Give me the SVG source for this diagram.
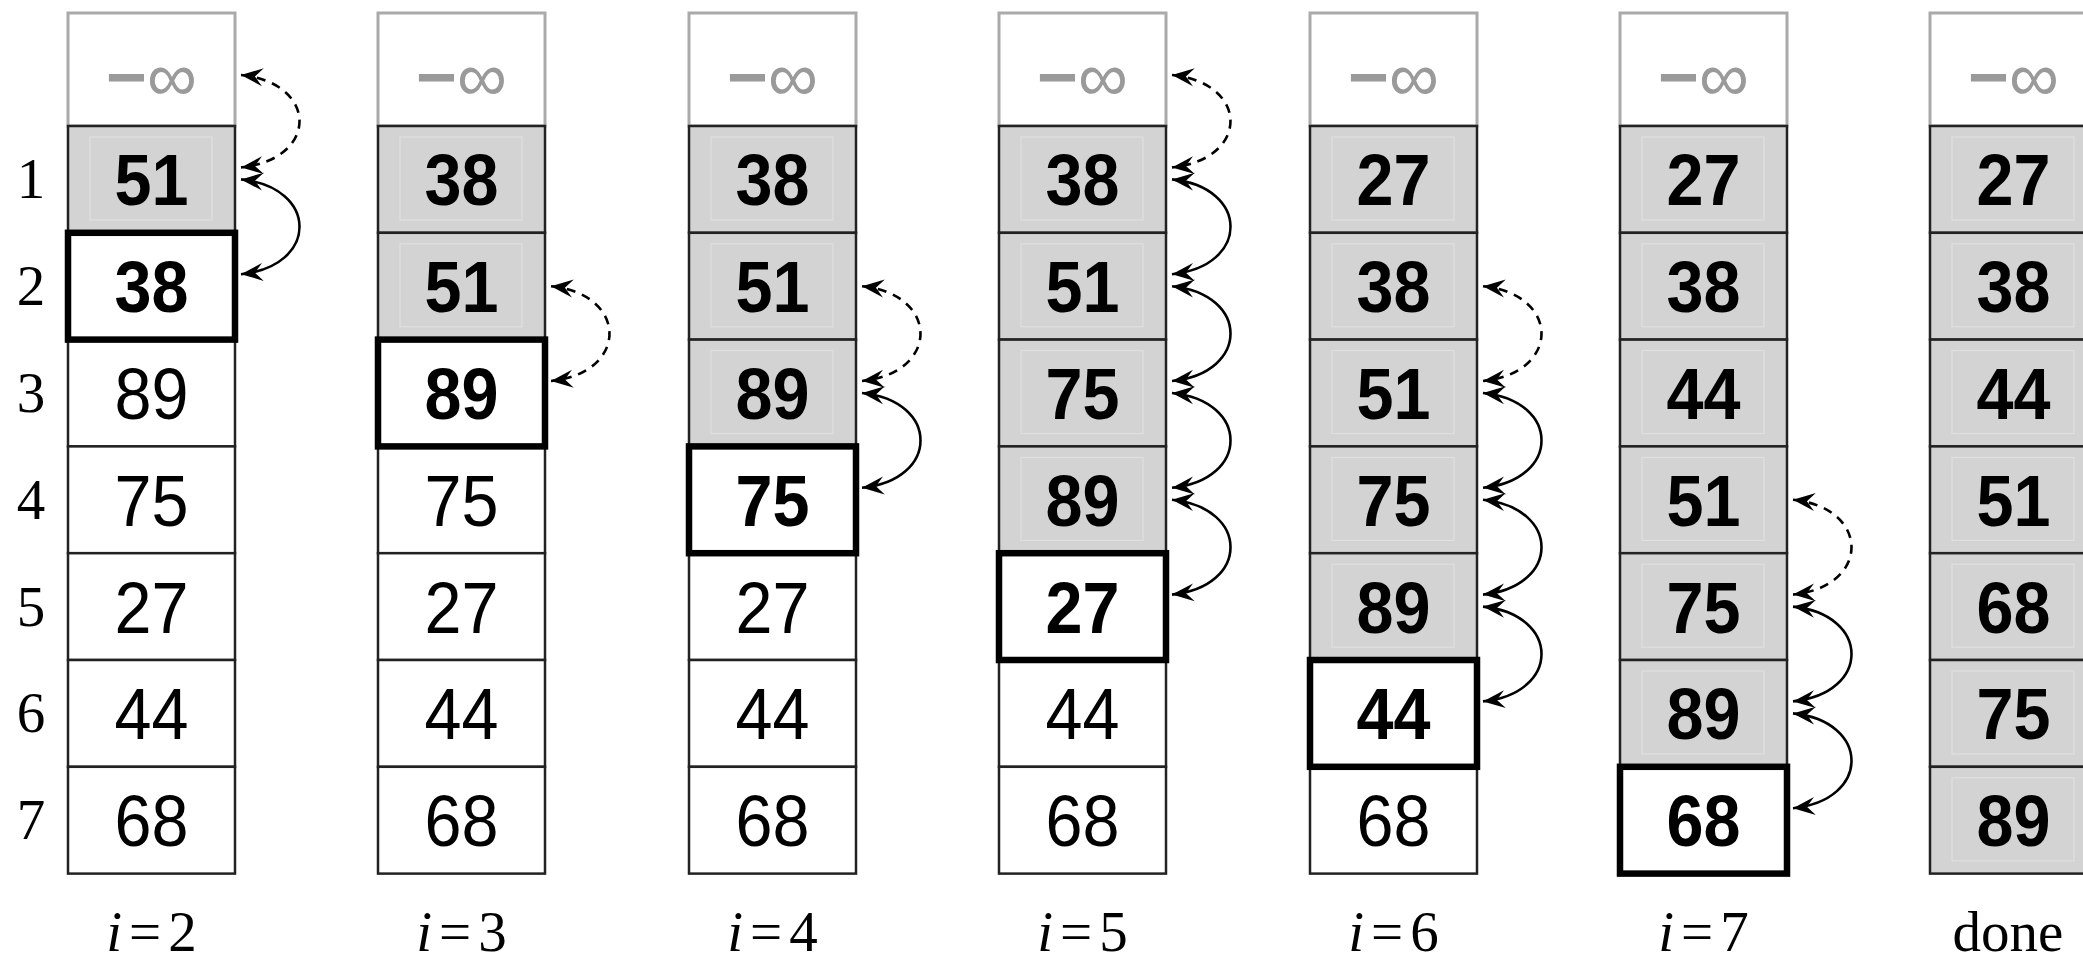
<svg xmlns="http://www.w3.org/2000/svg" width="2083" height="960" viewBox="0 0 2083 960">
<style>
.bg{fill:#fff}
.c{stroke:#222;stroke-width:2.5}
.s{fill:#d3d3d3}
.w{fill:#fff}
.in{fill:none;stroke:#e2e2e2;stroke-width:1}
.k{fill:none;stroke:#000;stroke-width:6.5}
.inf{fill:#fff;stroke:#aaa;stroke-width:3}
.t{font-family:"Liberation Sans",Arial,sans-serif;font-size:72px;text-anchor:middle;fill:#000}
.b{font-weight:bold}
.ti{font-family:"Liberation Sans",Arial,sans-serif;font-size:70px;text-anchor:middle;fill:#9a9a9a}
.ix{font-family:"Liberation Serif","Times New Roman",serif;font-size:57px;text-anchor:middle;fill:#000}
.a{fill:none;stroke:#000;stroke-width:2.6;marker-start:url(#ah);marker-end:url(#ah)}
.d{stroke-dasharray:9 7}
</style>
<defs>
<marker id="ah" viewBox="-24 -11 26 22" refX="0" refY="0" markerWidth="26" markerHeight="22" markerUnits="userSpaceOnUse" orient="auto-start-reverse">
<path d="M0,0 L-22,-9 L-14,0 L-22,9 Z" fill="#000"/>
</marker>
</defs>
<rect class="bg" x="0" y="0" width="2083" height="960"/>

<g id="index-labels">
<text class="ix" x="31" y="198.4">1</text>
<text class="ix" x="31" y="305.2">2</text>
<text class="ix" x="31" y="412">3</text>
<text class="ix" x="31" y="518.8">4</text>
<text class="ix" x="31" y="625.6">5</text>
<text class="ix" x="31" y="732.4">6</text>
<text class="ix" x="31" y="839.2">7</text>
</g>

<g id="col-i2">
<rect class="inf" x="68" y="13" width="167" height="113"/>
<text class="ti" x="151.5" y="101"><tspan font-weight="bold">−</tspan>∞</text>
<rect class="c s" x="68" y="126" width="167" height="106.8"/><rect class="in" x="90" y="137" width="122" height="83"/>
<rect class="c w" x="68" y="232.8" width="167" height="106.8"/>
<rect class="c w" x="68" y="339.6" width="167" height="106.8"/>
<rect class="c w" x="68" y="446.4" width="167" height="106.8"/>
<rect class="c w" x="68" y="553.2" width="167" height="106.8"/>
<rect class="c w" x="68" y="660" width="167" height="106.8"/>
<rect class="c w" x="68" y="766.8" width="167" height="106.8"/>
<rect class="k" x="68" y="232.8" width="167" height="106.8"/>
<text class="t b" x="151.5" y="205.4" textLength="74" lengthAdjust="spacingAndGlyphs">51</text>
<text class="t b" x="151.5" y="312.2" textLength="74" lengthAdjust="spacingAndGlyphs">38</text>
<text class="t" x="151.5" y="419" textLength="74" lengthAdjust="spacingAndGlyphs">89</text>
<text class="t" x="151.5" y="525.8" textLength="74" lengthAdjust="spacingAndGlyphs">75</text>
<text class="t" x="151.5" y="632.6" textLength="74" lengthAdjust="spacingAndGlyphs">27</text>
<text class="t" x="151.5" y="739.4" textLength="74" lengthAdjust="spacingAndGlyphs">44</text>
<text class="t" x="151.5" y="846.2" textLength="74" lengthAdjust="spacingAndGlyphs">68</text>
<text class="ix" x="151.5" y="951"><tspan font-style="italic">i</tspan><tspan dx="7">=</tspan><tspan dx="7">2</tspan></text>
</g>

<g id="col-i3">
<rect class="inf" x="378" y="13" width="167" height="113"/>
<text class="ti" x="461.5" y="101"><tspan font-weight="bold">−</tspan>∞</text>
<rect class="c s" x="378" y="126" width="167" height="106.8"/><rect class="in" x="400" y="137" width="122" height="83"/>
<rect class="c s" x="378" y="232.8" width="167" height="106.8"/><rect class="in" x="400" y="243.8" width="122" height="83"/>
<rect class="c w" x="378" y="339.6" width="167" height="106.8"/>
<rect class="c w" x="378" y="446.4" width="167" height="106.8"/>
<rect class="c w" x="378" y="553.2" width="167" height="106.8"/>
<rect class="c w" x="378" y="660" width="167" height="106.8"/>
<rect class="c w" x="378" y="766.8" width="167" height="106.8"/>
<rect class="k" x="378" y="339.6" width="167" height="106.8"/>
<text class="t b" x="461.5" y="205.4" textLength="74" lengthAdjust="spacingAndGlyphs">38</text>
<text class="t b" x="461.5" y="312.2" textLength="74" lengthAdjust="spacingAndGlyphs">51</text>
<text class="t b" x="461.5" y="419" textLength="74" lengthAdjust="spacingAndGlyphs">89</text>
<text class="t" x="461.5" y="525.8" textLength="74" lengthAdjust="spacingAndGlyphs">75</text>
<text class="t" x="461.5" y="632.6" textLength="74" lengthAdjust="spacingAndGlyphs">27</text>
<text class="t" x="461.5" y="739.4" textLength="74" lengthAdjust="spacingAndGlyphs">44</text>
<text class="t" x="461.5" y="846.2" textLength="74" lengthAdjust="spacingAndGlyphs">68</text>
<text class="ix" x="461.5" y="951"><tspan font-style="italic">i</tspan><tspan dx="7">=</tspan><tspan dx="7">3</tspan></text>
</g>

<g id="col-i4">
<rect class="inf" x="689" y="13" width="167" height="113"/>
<text class="ti" x="772.5" y="101"><tspan font-weight="bold">−</tspan>∞</text>
<rect class="c s" x="689" y="126" width="167" height="106.8"/><rect class="in" x="711" y="137" width="122" height="83"/>
<rect class="c s" x="689" y="232.8" width="167" height="106.8"/><rect class="in" x="711" y="243.8" width="122" height="83"/>
<rect class="c s" x="689" y="339.6" width="167" height="106.8"/><rect class="in" x="711" y="350.6" width="122" height="83"/>
<rect class="c w" x="689" y="446.4" width="167" height="106.8"/>
<rect class="c w" x="689" y="553.2" width="167" height="106.8"/>
<rect class="c w" x="689" y="660" width="167" height="106.8"/>
<rect class="c w" x="689" y="766.8" width="167" height="106.8"/>
<rect class="k" x="689" y="446.4" width="167" height="106.8"/>
<text class="t b" x="772.5" y="205.4" textLength="74" lengthAdjust="spacingAndGlyphs">38</text>
<text class="t b" x="772.5" y="312.2" textLength="74" lengthAdjust="spacingAndGlyphs">51</text>
<text class="t b" x="772.5" y="419" textLength="74" lengthAdjust="spacingAndGlyphs">89</text>
<text class="t b" x="772.5" y="525.8" textLength="74" lengthAdjust="spacingAndGlyphs">75</text>
<text class="t" x="772.5" y="632.6" textLength="74" lengthAdjust="spacingAndGlyphs">27</text>
<text class="t" x="772.5" y="739.4" textLength="74" lengthAdjust="spacingAndGlyphs">44</text>
<text class="t" x="772.5" y="846.2" textLength="74" lengthAdjust="spacingAndGlyphs">68</text>
<text class="ix" x="772.5" y="951"><tspan font-style="italic">i</tspan><tspan dx="7">=</tspan><tspan dx="7">4</tspan></text>
</g>

<g id="col-i5">
<rect class="inf" x="999" y="13" width="167" height="113"/>
<text class="ti" x="1082.5" y="101"><tspan font-weight="bold">−</tspan>∞</text>
<rect class="c s" x="999" y="126" width="167" height="106.8"/><rect class="in" x="1021" y="137" width="122" height="83"/>
<rect class="c s" x="999" y="232.8" width="167" height="106.8"/><rect class="in" x="1021" y="243.8" width="122" height="83"/>
<rect class="c s" x="999" y="339.6" width="167" height="106.8"/><rect class="in" x="1021" y="350.6" width="122" height="83"/>
<rect class="c s" x="999" y="446.4" width="167" height="106.8"/><rect class="in" x="1021" y="457.4" width="122" height="83"/>
<rect class="c w" x="999" y="553.2" width="167" height="106.8"/>
<rect class="c w" x="999" y="660" width="167" height="106.8"/>
<rect class="c w" x="999" y="766.8" width="167" height="106.8"/>
<rect class="k" x="999" y="553.2" width="167" height="106.8"/>
<text class="t b" x="1082.5" y="205.4" textLength="74" lengthAdjust="spacingAndGlyphs">38</text>
<text class="t b" x="1082.5" y="312.2" textLength="74" lengthAdjust="spacingAndGlyphs">51</text>
<text class="t b" x="1082.5" y="419" textLength="74" lengthAdjust="spacingAndGlyphs">75</text>
<text class="t b" x="1082.5" y="525.8" textLength="74" lengthAdjust="spacingAndGlyphs">89</text>
<text class="t b" x="1082.5" y="632.6" textLength="74" lengthAdjust="spacingAndGlyphs">27</text>
<text class="t" x="1082.5" y="739.4" textLength="74" lengthAdjust="spacingAndGlyphs">44</text>
<text class="t" x="1082.5" y="846.2" textLength="74" lengthAdjust="spacingAndGlyphs">68</text>
<text class="ix" x="1082.5" y="951"><tspan font-style="italic">i</tspan><tspan dx="7">=</tspan><tspan dx="7">5</tspan></text>
</g>

<g id="col-i6">
<rect class="inf" x="1310" y="13" width="167" height="113"/>
<text class="ti" x="1393.5" y="101"><tspan font-weight="bold">−</tspan>∞</text>
<rect class="c s" x="1310" y="126" width="167" height="106.8"/><rect class="in" x="1332" y="137" width="122" height="83"/>
<rect class="c s" x="1310" y="232.8" width="167" height="106.8"/><rect class="in" x="1332" y="243.8" width="122" height="83"/>
<rect class="c s" x="1310" y="339.6" width="167" height="106.8"/><rect class="in" x="1332" y="350.6" width="122" height="83"/>
<rect class="c s" x="1310" y="446.4" width="167" height="106.8"/><rect class="in" x="1332" y="457.4" width="122" height="83"/>
<rect class="c s" x="1310" y="553.2" width="167" height="106.8"/><rect class="in" x="1332" y="564.2" width="122" height="83"/>
<rect class="c w" x="1310" y="660" width="167" height="106.8"/>
<rect class="c w" x="1310" y="766.8" width="167" height="106.8"/>
<rect class="k" x="1310" y="660" width="167" height="106.8"/>
<text class="t b" x="1393.5" y="205.4" textLength="74" lengthAdjust="spacingAndGlyphs">27</text>
<text class="t b" x="1393.5" y="312.2" textLength="74" lengthAdjust="spacingAndGlyphs">38</text>
<text class="t b" x="1393.5" y="419" textLength="74" lengthAdjust="spacingAndGlyphs">51</text>
<text class="t b" x="1393.5" y="525.8" textLength="74" lengthAdjust="spacingAndGlyphs">75</text>
<text class="t b" x="1393.5" y="632.6" textLength="74" lengthAdjust="spacingAndGlyphs">89</text>
<text class="t b" x="1393.5" y="739.4" textLength="74" lengthAdjust="spacingAndGlyphs">44</text>
<text class="t" x="1393.5" y="846.2" textLength="74" lengthAdjust="spacingAndGlyphs">68</text>
<text class="ix" x="1393.5" y="951"><tspan font-style="italic">i</tspan><tspan dx="7">=</tspan><tspan dx="7">6</tspan></text>
</g>

<g id="col-i7">
<rect class="inf" x="1620" y="13" width="167" height="113"/>
<text class="ti" x="1703.5" y="101"><tspan font-weight="bold">−</tspan>∞</text>
<rect class="c s" x="1620" y="126" width="167" height="106.8"/><rect class="in" x="1642" y="137" width="122" height="83"/>
<rect class="c s" x="1620" y="232.8" width="167" height="106.8"/><rect class="in" x="1642" y="243.8" width="122" height="83"/>
<rect class="c s" x="1620" y="339.6" width="167" height="106.8"/><rect class="in" x="1642" y="350.6" width="122" height="83"/>
<rect class="c s" x="1620" y="446.4" width="167" height="106.8"/><rect class="in" x="1642" y="457.4" width="122" height="83"/>
<rect class="c s" x="1620" y="553.2" width="167" height="106.8"/><rect class="in" x="1642" y="564.2" width="122" height="83"/>
<rect class="c s" x="1620" y="660" width="167" height="106.8"/><rect class="in" x="1642" y="671" width="122" height="83"/>
<rect class="c w" x="1620" y="766.8" width="167" height="106.8"/>
<rect class="k" x="1620" y="766.8" width="167" height="106.8"/>
<text class="t b" x="1703.5" y="205.4" textLength="74" lengthAdjust="spacingAndGlyphs">27</text>
<text class="t b" x="1703.5" y="312.2" textLength="74" lengthAdjust="spacingAndGlyphs">38</text>
<text class="t b" x="1703.5" y="419" textLength="74" lengthAdjust="spacingAndGlyphs">44</text>
<text class="t b" x="1703.5" y="525.8" textLength="74" lengthAdjust="spacingAndGlyphs">51</text>
<text class="t b" x="1703.5" y="632.6" textLength="74" lengthAdjust="spacingAndGlyphs">75</text>
<text class="t b" x="1703.5" y="739.4" textLength="74" lengthAdjust="spacingAndGlyphs">89</text>
<text class="t b" x="1703.5" y="846.2" textLength="74" lengthAdjust="spacingAndGlyphs">68</text>
<text class="ix" x="1703.5" y="951"><tspan font-style="italic">i</tspan><tspan dx="7">=</tspan><tspan dx="7">7</tspan></text>
</g>

<g id="col-done">
<rect class="inf" x="1930" y="13" width="167" height="113"/>
<text class="ti" x="2013.5" y="101"><tspan font-weight="bold">−</tspan>∞</text>
<rect class="c s" x="1930" y="126" width="167" height="106.8"/><rect class="in" x="1952" y="137" width="122" height="83"/>
<rect class="c s" x="1930" y="232.8" width="167" height="106.8"/><rect class="in" x="1952" y="243.8" width="122" height="83"/>
<rect class="c s" x="1930" y="339.6" width="167" height="106.8"/><rect class="in" x="1952" y="350.6" width="122" height="83"/>
<rect class="c s" x="1930" y="446.4" width="167" height="106.8"/><rect class="in" x="1952" y="457.4" width="122" height="83"/>
<rect class="c s" x="1930" y="553.2" width="167" height="106.8"/><rect class="in" x="1952" y="564.2" width="122" height="83"/>
<rect class="c s" x="1930" y="660" width="167" height="106.8"/><rect class="in" x="1952" y="671" width="122" height="83"/>
<rect class="c s" x="1930" y="766.8" width="167" height="106.8"/><rect class="in" x="1952" y="777.8" width="122" height="83"/>
<text class="t b" x="2013.5" y="205.4" textLength="74" lengthAdjust="spacingAndGlyphs">27</text>
<text class="t b" x="2013.5" y="312.2" textLength="74" lengthAdjust="spacingAndGlyphs">38</text>
<text class="t b" x="2013.5" y="419" textLength="74" lengthAdjust="spacingAndGlyphs">44</text>
<text class="t b" x="2013.5" y="525.8" textLength="74" lengthAdjust="spacingAndGlyphs">51</text>
<text class="t b" x="2013.5" y="632.6" textLength="74" lengthAdjust="spacingAndGlyphs">68</text>
<text class="t b" x="2013.5" y="739.4" textLength="74" lengthAdjust="spacingAndGlyphs">75</text>
<text class="t b" x="2013.5" y="846.2" textLength="74" lengthAdjust="spacingAndGlyphs">89</text>
<text class="ix" x="2008" y="951">done</text>
</g>

<g id="connectors">
<path class="a d" d="M241,75 C319,83 319,159.4 241,167.4"/>
<path class="a" d="M241,179.4 C319,187.4 319,266.2 241,274.2"/>

<path class="a d" d="M551,286.2 C629,294.2 629,373 551,381"/>

<path class="a d" d="M862,286.2 C940,294.2 940,373 862,381"/>
<path class="a" d="M862,393 C940,401 940,479.8 862,487.8"/>

<path class="a d" d="M1172,75 C1250,83 1250,159.4 1172,167.4"/>
<path class="a" d="M1172,179.4 C1250,187.4 1250,266.2 1172,274.2"/>
<path class="a" d="M1172,286.2 C1250,294.2 1250,373 1172,381"/>
<path class="a" d="M1172,393 C1250,401 1250,479.8 1172,487.8"/>
<path class="a" d="M1172,499.8 C1250,507.8 1250,586.6 1172,594.6"/>

<path class="a d" d="M1483,286.2 C1561,294.2 1561,373 1483,381"/>
<path class="a" d="M1483,393 C1561,401 1561,479.8 1483,487.8"/>
<path class="a" d="M1483,499.8 C1561,507.8 1561,586.6 1483,594.6"/>
<path class="a" d="M1483,606.6 C1561,614.6 1561,693.4 1483,701.4"/>

<path class="a d" d="M1793,499.8 C1871,507.8 1871,586.6 1793,594.6"/>
<path class="a" d="M1793,606.6 C1871,614.6 1871,693.4 1793,701.4"/>
<path class="a" d="M1793,713.4 C1871,721.4 1871,800.2 1793,808.2"/>
</g>
</svg>
